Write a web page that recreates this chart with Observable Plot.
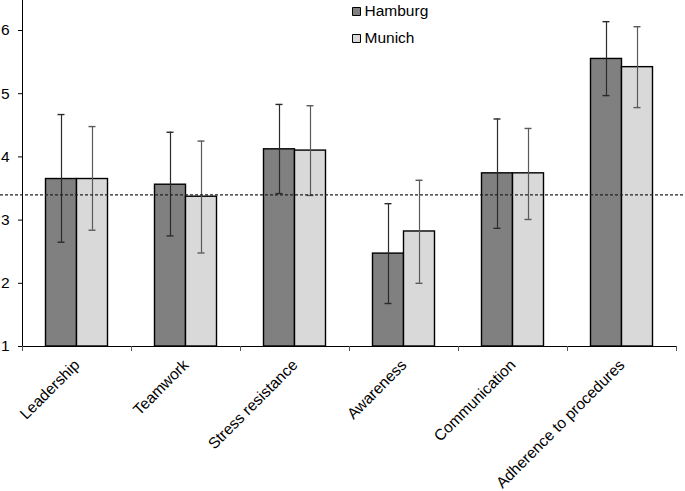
<!DOCTYPE html>
<html>
<head>
<meta charset="utf-8">
<script src="https://cdn.jsdelivr.net/npm/d3@7"></script>
<script src="https://cdn.jsdelivr.net/npm/@observablehq/plot@0.6"></script>
<style>
  html, body { margin: 0; padding: 0; background: #fff; }
  #chart svg { display: block; }
</style>
</head>
<body>
<div id="chart"></div>
<script>
// ---- data ----
const categories = ["Leadership", "Teamwork", "Stress resistance", "Awareness", "Communication", "Adherence to procedures"];
const cities = ["Hamburg", "Munich"];
const hamburgMean = [3.65, 3.56, 4.12, 2.47, 3.74, 5.55];
const munichMean  = [3.65, 3.37, 4.10, 2.82, 3.74, 5.42];
const hamburgLow  = [2.65, 2.75, 3.42, 1.68, 2.87, 4.97];
const hamburgHigh = [4.67, 4.39, 4.83, 3.26, 4.60, 6.14];
const munichLow   = [2.84, 2.48, 3.39, 2.00, 3.01, 4.78];
const munichHigh  = [4.48, 4.25, 4.81, 3.63, 4.45, 6.06];
const yTicks = [1, 2, 3, 4, 5, 6];
const referenceLine = 3.4;
const baseline = 1;

// ---- layout ----
const W = 685, H = 491;
const mL = 22, mR = 9, mT = 0, mB = 145;
const band = (W - mL - mR) / categories.length;   // category band width
const barW = 31;                                     // bar width
const capW = 7;
const colors = {Hamburg: "#808080", Munich: "#d9d9d9"};
const errColors = {Hamburg: "#2a2a2a", Munich: "#5a5a5a"};

const rows = (city, mean, lo, hi) => categories.map((c, i) => ({cat: c, city, value: mean[i], lo: lo[i], hi: hi[i]}));
const hamburg = rows("Hamburg", hamburgMean, hamburgLow, hamburgHigh);
const munich = rows("Munich", munichMean, munichLow, munichHigh);

function cityMarks(data, side) {
  // side: -1 for left bar (Hamburg), +1 for right bar (Munich)
  const city = data[0].city;
  const left = side < 0 ? band / 2 - barW : band / 2;
  const off = side * barW / 2;
  return [
    Plot.barY(data, {
      x: "cat", y1: () => baseline, y2: "value",
      insetLeft: left, insetRight: band - left - barW,
      fill: colors[city], stroke: "#000", strokeWidth: 1.4
    }),
    Plot.ruleX(data, {x: "cat", y1: "lo", y2: "hi", dx: off, stroke: errColors[city], strokeWidth: 1.2}),
    Plot.tickY(data, {x: "cat", y: "hi", dx: off, insetLeft: (band - capW) / 2, insetRight: (band - capW) / 2, stroke: errColors[city], strokeWidth: 1.4}),
    Plot.tickY(data, {x: "cat", y: "lo", dx: off, insetLeft: (band - capW) / 2, insetRight: (band - capW) / 2, stroke: errColors[city], strokeWidth: 1.4})
  ];
}

const legendMarks = cities.flatMap((c, i) => [
  Plot.dot([c], {frameAnchor: "top-left", dx: 356 - mL, dy: 11 + i * 27, symbol: "square", r: 4.5, fill: colors[c], stroke: "#000", strokeWidth: 1}),
  Plot.text([c], {frameAnchor: "top-left", dx: 364 - mL, dy: 11 + i * 27, text: d => d, textAnchor: "start", lineAnchor: "middle", fontSize: 15.5, fill: "#000"})
]);

const chart = Plot.plot({
  width: W, height: H,
  marginLeft: mL, marginRight: mR, marginTop: mT, marginBottom: mB,
  style: {fontFamily: "'Liberation Sans', Arial, sans-serif", fontSize: "15.5px", background: "#fff", color: "#000"},
  x: {domain: categories, padding: 0, tickSize: 0, tickRotate: -45, tickPadding: 16, label: null, line: true},
  y: {domain: [1, 1 + (H - mB - mT) / 63.2], ticks: yTicks, tickFormat: d => String(d), tickSize: 4, tickPadding: 9, label: null, line: true},
  marks: [
    ...cityMarks(hamburg, -1),
    ...cityMarks(munich, +1),
    Plot.ruleY([referenceLine], {insetLeft: -mL, insetRight: -mR, stroke: "#222", strokeWidth: 1.2, strokeDasharray: "3,2"}),
    // boundary ticks on the category axis
    Plot.ruleX(categories, {x: d => d, y1: () => baseline, y2: () => baseline, dx: -band / 2, insetBottom: -5, stroke: "#555"}),
    Plot.ruleX(categories.slice(-1), {x: d => d, y1: () => baseline, y2: () => baseline, dx: band / 2, insetBottom: -5, stroke: "#555"}),
    ...legendMarks
  ]
});
document.getElementById("chart").appendChild(chart);
</script>
</body>
</html>
